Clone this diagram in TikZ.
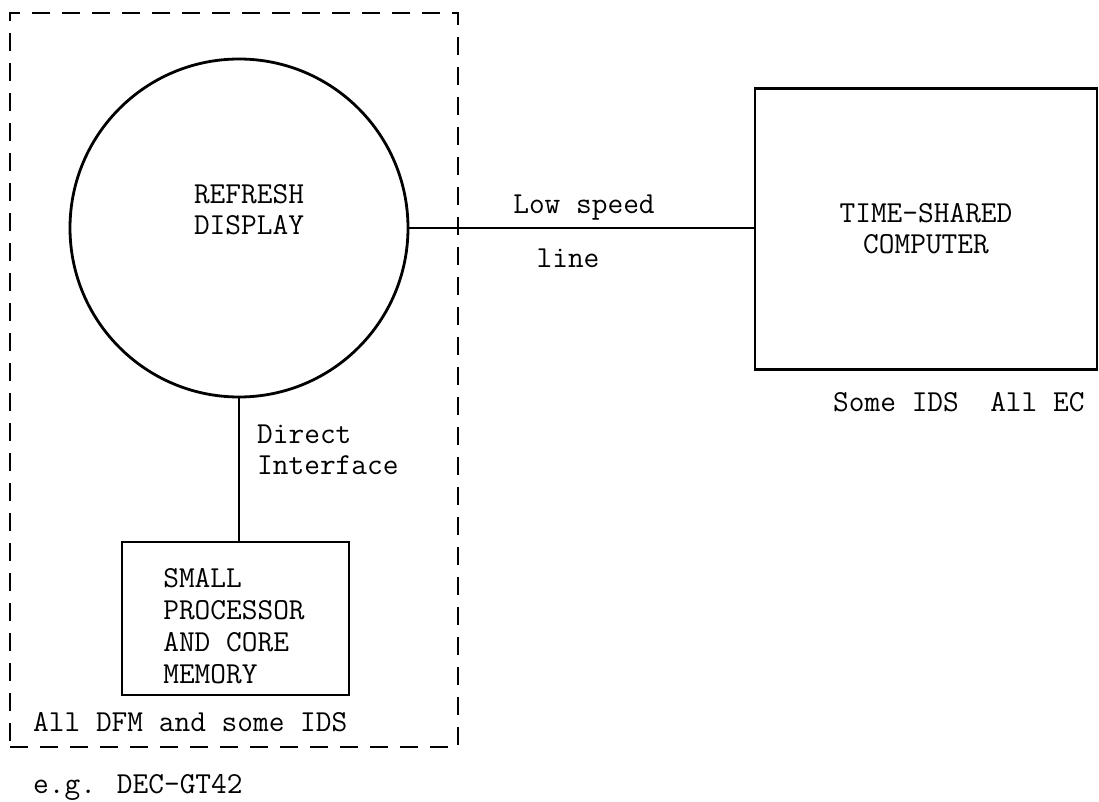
\documentclass[tikz,border=0pt]{standalone}
\usepackage{tikz}
\usetikzlibrary{positioning}

\begin{document}
\begin{tikzpicture}[x=1pt,y=-1pt,
    tt/.style={font=\ttfamily\fontsize{30.5}{31}\selectfont, inner sep=0pt},
    unit/.style={draw, line width=2.8pt, inner sep=0pt},
    grpbox/.style={draw, line width=2.6pt, dash pattern=on 18pt off 12pt, inner sep=0pt}]
  \useasboundingbox (0,0) rectangle (1099,802);
  % dashed group round the display and processor
  \node[grpbox, minimum width=448pt, minimum height=734pt] (grp) at (234,380) {};
  \node[unit, circle, minimum size=338pt] (disp) at (239,228) {};
  \node[tt, align=center] (disptxt) at (249,210) {REFRESH\\DISPLAY};
  \node[unit, minimum width=227pt, minimum height=153pt] (proc) at (235.5,618.5) {};
  \node[tt, align=left, font=\ttfamily\fontsize{30.5}{32}\selectfont] (proctxt) at (234,626) {SMALL\\PROCESSOR\\AND CORE\\MEMORY};
  \node[unit, tt, minimum width=342pt, minimum height=281pt, align=center] (tsc) at (926,229) {TIME-SHARED\\COMPUTER};
  % connectors
  \draw[line width=2.8pt] (disp.east) -- (disp.east -| tsc.west);
  \draw[line width=2.8pt] (disp.south) -- (disp.south |- proc.north);
  % labels
  \node[tt] (lowspeed) at (584,208) {Low speed};
  \node[tt] (line) at (568,258) {line};
  \node[tt, anchor=west, align=left] (direct) at (257,450) {Direct\\Interface};
  \node[tt, anchor=west] (grplbl) at (33,722) {All DFM and some IDS};
  \node[tt, anchor=west] (eg) at (33,787) {e.g. DEC-GT42};
  \node[tt, anchor=west] (tsclbl) at (833,402) {Some IDS\ \ All EC};
\end{tikzpicture}
\end{document}
